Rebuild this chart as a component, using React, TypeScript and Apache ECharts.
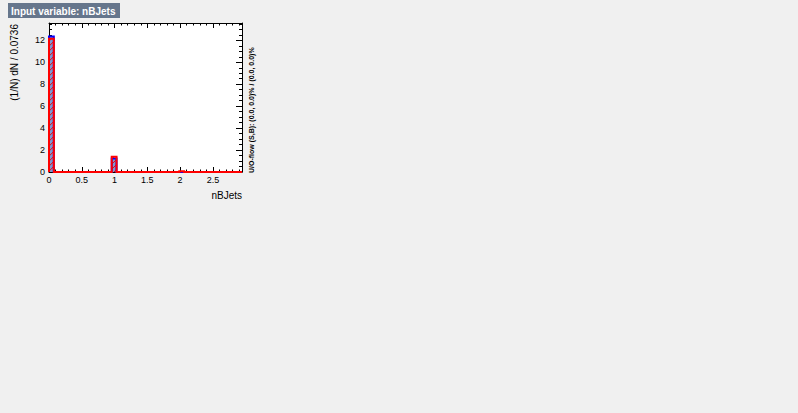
import React, { useEffect, useRef } from "react";
import * as echarts from "echarts";

// ---- data ----
const binWidth = 0.0736;
const nBins = 40;
const xTickLabels = ["0", "0.5", "1", "1.5", "2", "2.5"];
const yTickLabels = ["0", "2", "4", "6", "8", "10", "12"];
const signal = [
  12.35, 0, 0, 0, 0, 0, 0, 0, 0, 0,
  0, 0, 0, 1.24, 0, 0, 0, 0, 0, 0,
  0, 0, 0, 0, 0, 0, 0, 0, 0, 0,
  0, 0, 0, 0, 0, 0, 0, 0, 0, 0,
];
const background = [
  12.15, 0, 0, 0, 0, 0, 0, 0, 0, 0,
  0, 0, 0, 1.39, 0, 0, 0, 0, 0, 0,
  0, 0, 0, 0, 0, 0, 0, 0.07, 0, 0,
  0, 0, 0, 0, 0, 0, 0, 0, 0, 0,
];
const yMax = 13.58;

const FONT = "'Liberation Sans', Arial, sans-serif";

function stepPoints(values: number[]) {
  const pts: number[][] = [[0, 0]];
  values.forEach((v, i) => pts.push([i * binWidth, v]));
  pts.push([nBins * binWidth, values[nBins - 1]]);
  pts.push([nBins * binWidth, 0]);
  return pts;
}

function hatchLines(L: number, T: number, R: number, B: number, step: number) {
  const lines: any[] = [];
  for (let c = L + T + step / 2; c < R + B; c += step) {
    const xa = Math.max(L, c - B);
    const xb = Math.min(R, c - T);
    if (xb <= xa) continue;
    lines.push({
      type: "line",
      shape: { x1: xa, y1: c - xa, x2: xb, y2: c - xb },
      style: { stroke: "#ff0000", lineWidth: 1 },
    });
  }
  return lines;
}

export default function App() {
  const ref = useRef<HTMLDivElement>(null);
  useEffect(() => {
    if (!ref.current) return;
    const chart = echarts.init(ref.current, null, { renderer: "svg" });
    const xMax = nBins * binWidth;
    const binData = signal.map((s, i) => [i * binWidth, (i + 1) * binWidth, s, background[i]]);

    const xAxisBase = {
      type: "value" as const,
      min: 0,
      max: xMax,
      interval: 0.5,
      axisLine: { show: true, onZero: false, lineStyle: { color: "#000", width: 1 } },
      splitLine: { show: false },
      axisTick: { show: true, inside: true, length: 5, lineStyle: { color: "#000" } },
      minorTick: { show: true, splitNumber: 5, length: 2.5, lineStyle: { color: "#000" } },
    };
    const yAxisBase = {
      type: "value" as const,
      min: 0,
      max: yMax,
      interval: 2,
      axisLine: { show: true, onZero: false, lineStyle: { color: "#000", width: 1 } },
      splitLine: { show: false },
      axisTick: { show: true, inside: true, length: 6, lineStyle: { color: "#000" } },
      minorTick: { show: true, splitNumber: 4, length: 3, lineStyle: { color: "#000" } },
    };

    chart.setOption({
      animation: false,
      backgroundColor: "#f0f0f0",
      textStyle: { fontFamily: FONT },
      grid: {
        left: 49,
        top: 23,
        right: 556,
        bottom: 241,
        show: true,
        backgroundColor: "#ffffff",
        borderWidth: 0,
      },
      xAxis: [
        {
          ...xAxisBase,
          position: "bottom",
          axisLabel: {
            show: true,
            showMaxLabel: false,
            margin: 3,
            fontSize: 9,
            color: "#000",
            fontFamily: FONT,
            formatter: (v: number) => {
              const s = String(Math.round(v * 10) / 10);
              return xTickLabels.includes(s) ? s : "";
            },
          },
        },
        {
          ...xAxisBase,
          position: "top",
          axisLabel: { show: false },
        },
      ],
      yAxis: [
        {
          ...yAxisBase,
          position: "left",
          axisLabel: {
            show: true,
            showMaxLabel: false,
            margin: 4,
            fontSize: 9,
            color: "#000",
            fontFamily: FONT,
            formatter: (v: number) => {
              const s = String(Math.round(v));
              return yTickLabels.includes(s) && Math.abs(v - Math.round(v)) < 1e-6 ? s : "";
            },
          },
        },
        {
          ...yAxisBase,
          position: "right",
          axisLabel: { show: false },
        },
      ],
      series: [
        {
          type: "custom",
          xAxisIndex: 0,
          yAxisIndex: 0,
          data: binData,
          renderItem: (params: any, api: any) => {
            const x0 = api.value(0);
            const x1 = api.value(1);
            const s = api.value(2);
            const b = api.value(3);
            const children: any[] = [];
            if (s > 0) {
              const p0 = api.coord([x0, s]);
              const p1 = api.coord([x1, 0]);
              children.push({
                type: "rect",
                shape: { x: p0[0], y: p0[1], width: p1[0] - p0[0], height: p1[1] - p0[1] },
                style: { fill: "#7d99d1" },
              });
            }
            if (b > 0) {
              const p0 = api.coord([x0, b]);
              const p1 = api.coord([x1, 0]);
              children.push(...hatchLines(p0[0], p0[1], p1[0], p1[1], 5));
            }
            return { type: "group", children };
          },
          z: 2,
        },
        {
          type: "line",
          name: "Signal",
          xAxisIndex: 0,
          yAxisIndex: 0,
          step: "end",
          symbol: "none",
          data: stepPoints(signal),
          lineStyle: { color: "#0000ff", width: 2, join: "miter", cap: "butt" },
          z: 3,
        },
        {
          type: "line",
          name: "Background",
          xAxisIndex: 0,
          yAxisIndex: 0,
          step: "end",
          symbol: "none",
          data: stepPoints(background),
          lineStyle: { color: "#ff0000", width: 2, join: "miter", cap: "butt" },
          z: 4,
        },
      ],
      graphic: [
        {
          type: "rect",
          shape: { x: 8, y: 3, width: 112, height: 15 },
          style: { fill: "#66768c" },
          z: 10,
        },
        {
          type: "text",
          x: 11,
          y: 11,
          style: {
            text: "Input variable: nBJets",
            fill: "#ffffff",
            fontSize: 10,
            fontWeight: "bold",
            fontFamily: FONT,
            textAlign: "left",
            textVerticalAlign: "middle",
          },
          z: 11,
        },
        {
          type: "text",
          x: 14,
          y: 24,
          rotation: Math.PI / 2,
          style: {
            text: "(1/N) dN / 0.0736",
            fill: "#000",
            fontSize: 10,
            fontFamily: FONT,
            textAlign: "right",
            textVerticalAlign: "middle",
          },
          z: 11,
        },
        {
          type: "text",
          x: 242,
          y: 195,
          style: {
            text: "nBJets",
            fill: "#000",
            fontSize: 10,
            fontFamily: FONT,
            textAlign: "right",
            textVerticalAlign: "middle",
          },
          z: 11,
        },
        {
          type: "text",
          x: 251,
          y: 173,
          rotation: Math.PI / 2,
          style: {
            text: "U/O-flow (S,B): (0.0, 0.0)% / (0.0, 0.0)%",
            fill: "#000",
            fontSize: 7,
            fontWeight: "bold",
            fontFamily: FONT,
            textAlign: "left",
            textVerticalAlign: "middle",
          },
          z: 11,
        },
      ],
    });
    return () => chart.dispose();
  }, []);
  return (
    <div
      ref={ref}
      style={{ position: "absolute", left: 0, top: 0, width: 798, height: 413 }}
    />
  );
}
